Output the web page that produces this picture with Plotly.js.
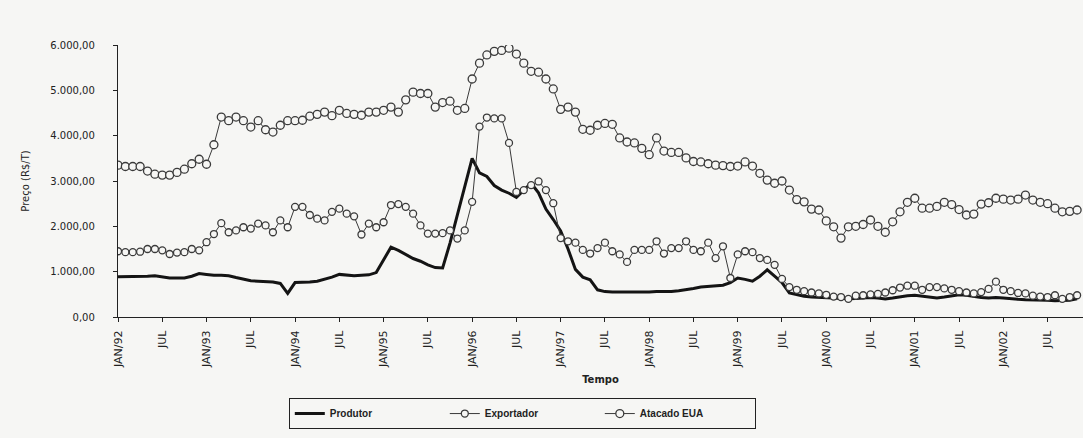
<!DOCTYPE html>
<html>
<head>
<meta charset="utf-8">
<script src="https://cdn.plot.ly/plotly-3.0.1.min.js"></script>
<style>
  html, body { margin: 0; padding: 0; background: #f6f6f4; }
  #chart { width: 1083px; height: 438px; }
</style>
</head>
<body>
<div id="chart"></div>
<script>
// Month index 0 = JAN/92, monthly observations
const months = Array.from({length: 131}, (_, i) => i);

const tickPositions = [0, 6, 12, 18, 24, 30, 36, 42, 48, 54, 60, 66, 72, 78, 84, 90, 96, 102, 108, 114, 120, 126];
const tickLabels = ["JAN/92", "JUL", "JAN/93", "JUL", "JAN/94", "JUL", "JAN/95", "JUL", "JAN/96", "JUL",
  "JAN/97", "JUL", "JAN/98", "JUL", "JAN/99", "JUL", "JAN/00", "JUL", "JAN/01", "JUL", "JAN/02", "JUL"];

const produtor = [
  890, 890, 890, 890, 900, 910, 880, 860, 860, 860,
  900, 960, 940, 920, 920, 910, 870, 830, 800, 790,
  780, 770, 740, 520, 760, 760, 770, 790, 830, 880,
  940, 920, 910, 920, 930, 980, 1250, 1540, 1470, 1380,
  1290, 1230, 1150, 1090, 1080, 1630, 2250, 2870, 3500, 3180,
  3100, 2900, 2800, 2730, 2640, 2800, 2950, 2740, 2380, 2150,
  1900, 1500, 1050, 880, 820, 600, 560, 550, 550, 540,
  540, 550, 550, 560, 560, 560, 580, 600, 630, 660,
  670, 680, 700, 760, 860, 830, 790, 900, 1040, 900,
  760, 530, 490, 460, 440, 430, 420, 410, 400, 400,
  410, 420, 430, 420, 400, 420, 450, 470, 480, 460,
  440, 420, 440, 470, 490, 480, 450, 430, 420, 430,
  420, 400, 390, 380, 380, 380, 370, 360, 360, 370,
  400
];

const exportador = [
  1450, 1430, 1430, 1440, 1500, 1500, 1470, 1390, 1420, 1430,
  1500, 1470, 1650, 1830, 2070, 1870, 1910, 1980, 1950, 2060,
  2020, 1870, 2130, 1980, 2430, 2430, 2250, 2170, 2130, 2320,
  2390, 2280, 2220, 1820, 2060, 1980, 2090, 2470, 2490, 2430,
  2280, 2020, 1840, 1840, 1850, 1910, 1730, 1910, 2540, 4200,
  4400, 4380, 4380, 3840, 2760, 2800, 2910, 2990, 2800, 2510,
  1740, 1670, 1640, 1480, 1400, 1520, 1640, 1450, 1380, 1215,
  1480, 1480, 1480, 1670, 1400, 1520, 1520, 1670, 1480, 1450,
  1640, 1300, 1560, 860, 1380, 1450, 1430, 1300, 1260, 1150,
  840, 660, 600, 570, 540, 520, 490, 450, 440, 400,
  470, 480, 500, 510, 540, 590, 650, 690, 690, 600,
  660, 660, 630, 600, 570, 540, 520, 550, 620, 780,
  600, 570, 530, 520, 470, 450, 440, 480, 400, 440,
  480
];

const atacadoEUA = [
  3350, 3320, 3320, 3320, 3220, 3150, 3130, 3130, 3190, 3260,
  3380, 3480, 3370, 3800, 4410, 4330, 4410, 4330, 4190, 4330,
  4130, 4080, 4230, 4330, 4330, 4340, 4430, 4470, 4520, 4440,
  4560, 4490, 4470, 4450, 4520, 4520, 4560, 4630, 4520, 4790,
  4960, 4930, 4930, 4630, 4730, 4760, 4560, 4600, 5250, 5600,
  5780, 5860, 5880, 5930, 5800, 5600, 5420, 5400, 5250, 5030,
  4580, 4630, 4520, 4140, 4120, 4230, 4270, 4250, 3950, 3860,
  3840, 3720, 3580, 3950, 3660, 3630, 3630, 3510, 3430, 3420,
  3380, 3350, 3340, 3320, 3330, 3420, 3330, 3170, 3020, 2950,
  3000, 2800, 2590, 2540, 2380, 2360, 2120, 1990, 1740, 1990,
  2000, 2040, 2140, 2000, 1870, 2100, 2320, 2530, 2620, 2400,
  2400, 2440, 2530, 2480, 2370, 2250, 2270, 2490, 2520, 2620,
  2600, 2580, 2600, 2690, 2580, 2530, 2500, 2400, 2320, 2330,
  2360
];

const ink = "#222222";
const bg = "#f6f6f4";

const traces = [
  {
    x: months, y: produtor, name: "Produtor", type: "scatter", mode: "lines",
    line: {color: "#141414", width: 3}
  },
  {
    x: months, y: exportador, name: "Exportador", type: "scatter", mode: "lines+markers",
    line: {color: "#3a3a3a", width: 1},
    marker: {symbol: "circle", size: 7, color: bg, line: {color: "#3a3a3a", width: 1.3}}
  },
  {
    x: months, y: atacadoEUA, name: "Atacado EUA", type: "scatter", mode: "lines+markers",
    line: {color: "#3a3a3a", width: 1},
    marker: {symbol: "circle", size: 8, color: bg, line: {color: "#3a3a3a", width: 1.3}}
  }
];

const layout = {
  width: 1083, height: 438,
  margin: {l: 118, r: 0, t: 45, b: 121},
  paper_bgcolor: bg, plot_bgcolor: bg,
  separators: ",.",
  showlegend: true,
  font: {family: "DejaVu Sans", color: ink, size: 10},
  xaxis: {
    range: [0, 130.8],
    tickmode: "array", tickvals: tickPositions, ticktext: tickLabels,
    tickangle: -90,
    tickfont: {family: "DejaVu Sans", size: 11, color: ink},
    ticks: "outside", ticklen: 4, tickcolor: ink, tickwidth: 1,
    showline: true, linecolor: ink, linewidth: 1.2,
    showgrid: false, zeroline: false,
    ticklabelstandoff: 4,
    title: {text: "Tempo", font: {family: "DejaVu Sans", size: 10, color: ink, weight: "bold"}, standoff: 8}
  },
  yaxis: {
    range: [0, 6000],
    tickvals: [0, 1000, 2000, 3000, 4000, 5000, 6000],
    tickformat: ",.2f",
    tickfont: {family: "DejaVu Sans", size: 10, color: ink},
    ticks: "outside", ticklen: 4, tickcolor: ink, tickwidth: 1,
    showline: true, linecolor: ink, linewidth: 1.2,
    showgrid: false, zeroline: false,
    ticklabelstandoff: 16,
    title: {text: "Preço (R$/T)", font: {family: "DejaVu Sans", size: 10, color: ink}, standoff: 18}
  },
  legend: {
    orientation: "h",
    x: 0.177, xanchor: "left",
    y: -0.298, yanchor: "top",
    entrywidth: 110, entrywidthmode: "pixels",
    bgcolor: bg, bordercolor: ink, borderwidth: 1,
    font: {family: "Liberation Sans", size: 10, color: ink, weight: "bold"}
  }
};

Plotly.newPlot("chart", traces, layout, {staticPlot: true, displayModeBar: false});
</script>
</body>
</html>
